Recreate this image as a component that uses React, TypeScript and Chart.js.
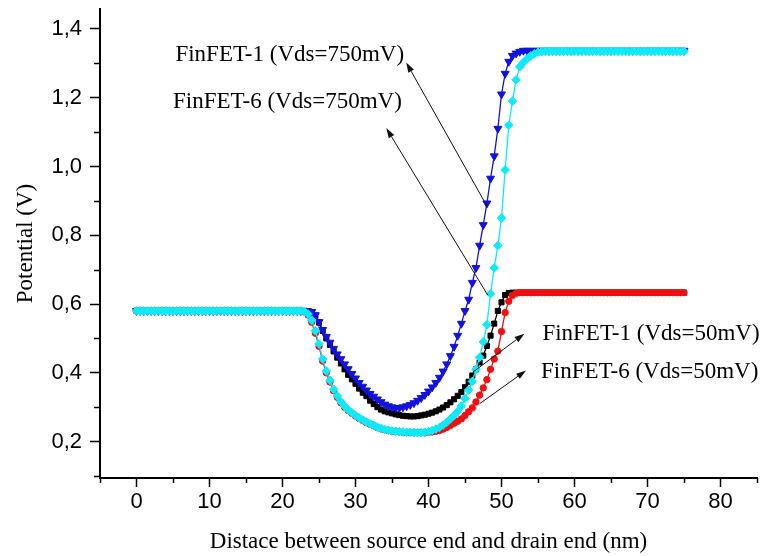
import { useEffect, useRef } from 'react';
import { Chart, registerables } from 'chart.js';

Chart.register(...registerables);

// x positions (nm) shared by all series
const xPositions = [
  0, 0.5, 1, 1.5, 2, 2.5, 3, 3.5, 4, 4.5, 5, 5.5, 6, 6.5, 7, 7.5, 8, 8.5, 9, 9.5, 10,
  10.5, 11, 11.5, 12, 12.5, 13, 13.5, 14, 14.5, 15, 15.5, 16, 16.5, 17, 17.5, 18, 18.5, 19, 19.5, 20,
  20.5, 21, 21.5, 22, 22.5, 23, 23.5, 24, 24.5, 25, 25.5, 26, 26.5, 27, 27.5, 28, 28.5, 29, 29.5, 30,
  30.5, 31, 31.5, 32, 32.5, 33, 33.5, 34, 34.5, 35, 35.5, 36, 36.5, 37, 37.5, 38, 38.5, 39, 39.5, 40,
  40.5, 41, 41.5, 42, 42.5, 43, 43.5, 44, 44.5, 45, 45.5, 46, 46.5, 47, 47.5, 48, 48.5, 49, 49.5, 50,
  50.5, 51, 51.5, 52, 52.5, 53, 53.5, 54, 54.5, 55, 55.5, 56,
  56.5, 57, 57.5, 58, 58.5, 59, 59.5, 60, 60.5, 61, 61.5, 62, 62.5, 63, 63.5, 64, 64.5, 65, 65.5,
  66, 66.5, 67, 67.5, 68, 68.5, 69, 69.5, 70, 70.5, 71, 71.5, 72, 72.5, 73, 73.5, 74, 74.5, 75,
];

// FinFET-1 (Vds=750mV) - blue down triangles
const finfet1Vds750 = [
  0.58, 0.58, 0.58, 0.58, 0.58, 0.58, 0.58, 0.58, 0.58, 0.58, 0.58, 0.58, 0.58, 0.58, 0.58, 0.58, 0.58, 0.58, 0.58, 0.58, 0.58,
  0.58, 0.58, 0.58, 0.58, 0.58, 0.58, 0.58, 0.58, 0.58, 0.58, 0.58, 0.58, 0.58, 0.58, 0.58, 0.58, 0.58, 0.58, 0.58, 0.58,
  0.58, 0.58, 0.58, 0.58, 0.58, 0.58, 0.579, 0.577, 0.568, 0.548, 0.525, 0.505, 0.488, 0.47, 0.454, 0.44, 0.425, 0.411, 0.397, 0.384,
  0.371, 0.36, 0.349, 0.339, 0.331, 0.323, 0.315, 0.308, 0.303, 0.3, 0.298, 0.298, 0.3, 0.303, 0.307, 0.312, 0.319, 0.327, 0.336, 0.346,
  0.358, 0.371, 0.386, 0.404, 0.425, 0.449, 0.476, 0.508, 0.543, 0.58, 0.613, 0.662, 0.705, 0.77, 0.83, 0.893, 0.965, 1.03, 1.11, 1.21,
  1.27, 1.305, 1.322, 1.329, 1.334, 1.337, 1.337, 1.337, 1.337, 1.337, 1.337, 1.337,
  1.337, 1.337, 1.337, 1.337, 1.337, 1.337, 1.337, 1.337, 1.337, 1.337, 1.337, 1.337, 1.337, 1.337, 1.337, 1.337, 1.337, 1.337, 1.337,
  1.337, 1.337, 1.337, 1.337, 1.337, 1.337, 1.337, 1.337, 1.337, 1.337, 1.337, 1.337, 1.337, 1.337, 1.337, 1.337, 1.337, 1.337, 1.337,
];

// FinFET-6 (Vds=750mV) - cyan diamonds
const finfet6Vds750 = [
  0.58, 0.58, 0.58, 0.58, 0.58, 0.58, 0.58, 0.58, 0.58, 0.58, 0.58, 0.58, 0.58, 0.58, 0.58, 0.58, 0.58, 0.58, 0.58, 0.58, 0.58,
  0.58, 0.58, 0.58, 0.58, 0.58, 0.58, 0.58, 0.58, 0.58, 0.58, 0.58, 0.58, 0.58, 0.58, 0.58, 0.58, 0.58, 0.58, 0.58, 0.58,
  0.58, 0.58, 0.58, 0.58, 0.58, 0.578, 0.571, 0.553, 0.522, 0.484, 0.44, 0.405, 0.378, 0.352, 0.333, 0.316, 0.303, 0.292, 0.284, 0.276,
  0.269, 0.263, 0.257, 0.252, 0.247, 0.242, 0.238, 0.235, 0.233, 0.231, 0.23, 0.229, 0.228, 0.227, 0.227, 0.226, 0.226, 0.226, 0.227, 0.229,
  0.232, 0.236, 0.241, 0.248, 0.256, 0.266, 0.276, 0.287, 0.303, 0.325, 0.35, 0.375, 0.41, 0.445, 0.49, 0.54, 0.63, 0.705, 0.77, 0.85,
  0.99, 1.12, 1.19, 1.252, 1.29, 1.303, 1.313, 1.322, 1.328, 1.332, 1.334, 1.335,
  1.335, 1.335, 1.335, 1.335, 1.335, 1.335, 1.335, 1.335, 1.335, 1.335, 1.335, 1.335, 1.335, 1.335, 1.335, 1.335, 1.335, 1.335, 1.335,
  1.335, 1.335, 1.335, 1.335, 1.335, 1.335, 1.335, 1.335, 1.335, 1.335, 1.335, 1.335, 1.335, 1.335, 1.335, 1.335, 1.335, 1.335, 1.335,
];

// FinFET-1 (Vds=50mV) - black squares
const finfet1Vds50 = [
  0.58, 0.58, 0.58, 0.58, 0.58, 0.58, 0.58, 0.58, 0.58, 0.58, 0.58, 0.58, 0.58, 0.58, 0.58, 0.58, 0.58, 0.58, 0.58, 0.58, 0.58,
  0.58, 0.58, 0.58, 0.58, 0.58, 0.58, 0.58, 0.58, 0.58, 0.58, 0.58, 0.58, 0.58, 0.58, 0.58, 0.58, 0.58, 0.58, 0.58, 0.58,
  0.58, 0.58, 0.58, 0.58, 0.58, 0.58, 0.579, 0.576, 0.566, 0.546, 0.522, 0.5, 0.481, 0.462, 0.444, 0.427, 0.41, 0.394, 0.381, 0.368,
  0.354, 0.342, 0.332, 0.319, 0.309, 0.3, 0.293, 0.288, 0.285, 0.282, 0.279, 0.277, 0.275, 0.274, 0.273, 0.273, 0.274, 0.276, 0.278, 0.281,
  0.284, 0.288, 0.293, 0.299, 0.306, 0.314, 0.323, 0.333, 0.344, 0.358, 0.374, 0.392, 0.41, 0.43, 0.45, 0.478, 0.508, 0.543, 0.58, 0.605,
  0.626, 0.632, 0.633, 0.633, 0.633, 0.633, 0.633, 0.633, 0.633, 0.633, 0.633, 0.633,
  0.633, 0.633, 0.633, 0.633, 0.633, 0.633, 0.633, 0.633, 0.633, 0.633, 0.633, 0.633, 0.633, 0.633, 0.633, 0.633, 0.633, 0.633, 0.633,
  0.633, 0.633, 0.633, 0.633, 0.633, 0.633, 0.633, 0.633, 0.633, 0.633, 0.633, 0.633, 0.633, 0.633, 0.633, 0.633, 0.633, 0.633, 0.633,
];

// FinFET-6 (Vds=50mV) - red circles
const finfet6Vds50 = [
  0.58, 0.58, 0.58, 0.58, 0.58, 0.58, 0.58, 0.58, 0.58, 0.58, 0.58, 0.58, 0.58, 0.58, 0.58, 0.58, 0.58, 0.58, 0.58, 0.58, 0.58,
  0.58, 0.58, 0.58, 0.58, 0.58, 0.58, 0.58, 0.58, 0.58, 0.58, 0.58, 0.58, 0.58, 0.58, 0.58, 0.58, 0.58, 0.58, 0.58, 0.58,
  0.58, 0.58, 0.58, 0.58, 0.58, 0.577, 0.568, 0.547, 0.515, 0.477, 0.434, 0.4, 0.373, 0.348, 0.329, 0.313, 0.3, 0.29, 0.282, 0.274,
  0.267, 0.261, 0.255, 0.25, 0.246, 0.241, 0.237, 0.234, 0.232, 0.23, 0.229, 0.228, 0.227, 0.226, 0.226, 0.226, 0.226, 0.226, 0.226, 0.227,
  0.228, 0.23, 0.232, 0.236, 0.241, 0.247, 0.253, 0.259, 0.266, 0.276, 0.287, 0.298, 0.315, 0.335, 0.356, 0.38, 0.41, 0.44, 0.463, 0.52,
  0.575, 0.608, 0.625, 0.631, 0.633, 0.633, 0.633, 0.633, 0.633, 0.633, 0.633, 0.633,
  0.633, 0.633, 0.633, 0.633, 0.633, 0.633, 0.633, 0.633, 0.633, 0.633, 0.633, 0.633, 0.633, 0.633, 0.633, 0.633, 0.633, 0.633, 0.633,
  0.633, 0.633, 0.633, 0.633, 0.633, 0.633, 0.633, 0.633, 0.633, 0.633, 0.633, 0.633, 0.633, 0.633, 0.633, 0.633, 0.633, 0.633, 0.633,
];

// axis ticks
const xTickValues = [0, 10, 20, 30, 40, 50, 60, 70, 80];
const xTickLabels = ['0', '10', '20', '30', '40', '50', '60', '70', '80'];
const xMinorValues = [-5, 5, 15, 25, 35, 45, 55, 65, 75, 85];
const yTickValues = [0.2, 0.4, 0.6, 0.8, 1.0, 1.2, 1.4];
const yTickLabels = ['0,2', '0,4', '0,6', '0,8', '1,0', '1,2', '1,4'];
const yMinorValues = [0.1, 0.3, 0.5, 0.7, 0.9, 1.1, 1.3];

// annotations (data coordinates)
const annotationTexts = ['FinFET-1 (Vds=750mV)', 'FinFET-6 (Vds=750mV)', 'FinFET-1 (Vds=50mV)', 'FinFET-6 (Vds=50mV)'];
const annotationX = [5.33, 5.01, 55.6, 55.42];
const annotationY = [1.3054, 1.17, 0.494, 0.386];
const arrowTailX = [48.09, 48.13, 46.08, 46.99];
const arrowTailY = [0.8816, 0.6253, 0.4019, 0.3098];
const arrowHeadX = [36.95, 34.22, 53.14, 53.37];
const arrowHeadY = [1.3025, 1.1117, 0.5137, 0.4068];

const SERIF = '"Liberation Serif", "Times New Roman", serif';
const SANS = '"Liberation Sans", Arial, sans-serif';

const toPoints = (vals: number[]) => xPositions.map((x, i) => ({ x, y: vals[i] }));

const minorTicksPlugin = {
  id: 'minorTicks',
  afterDraw(chart: any) {
    const { ctx, chartArea, scales } = chart;
    ctx.save();
    ctx.strokeStyle = '#000';
    ctx.lineWidth = 1.5;
    xMinorValues.forEach((v) => {
      const px = Math.round(scales.x.getPixelForValue(v)) + 0.5;
      ctx.beginPath();
      ctx.moveTo(px, chartArea.bottom);
      ctx.lineTo(px, chartArea.bottom + 5);
      ctx.stroke();
    });
    yMinorValues.forEach((v) => {
      const py = Math.round(scales.y.getPixelForValue(v)) + 0.5;
      ctx.beginPath();
      ctx.moveTo(chartArea.left - 6, py);
      ctx.lineTo(chartArea.left, py);
      ctx.stroke();
    });
    ctx.restore();
  },
};

const annotationPlugin = {
  id: 'annotations',
  afterDraw(chart: any) {
    const { ctx, scales } = chart;
    ctx.save();
    ctx.fillStyle = '#000';
    ctx.font = `23px ${SERIF}`;
    ctx.textAlign = 'left';
    ctx.textBaseline = 'alphabetic';
    annotationTexts.forEach((t, i) => {
      ctx.fillText(t, scales.x.getPixelForValue(annotationX[i]), scales.y.getPixelForValue(annotationY[i]));
    });
    ctx.strokeStyle = '#111';
    ctx.lineWidth = 1;
    arrowTailX.forEach((_, i) => {
      const x1 = scales.x.getPixelForValue(arrowTailX[i]);
      const y1 = scales.y.getPixelForValue(arrowTailY[i]);
      const x2 = scales.x.getPixelForValue(arrowHeadX[i]);
      const y2 = scales.y.getPixelForValue(arrowHeadY[i]);
      const ang = Math.atan2(y2 - y1, x2 - x1);
      const len = 10;
      const hw = 3.2;
      const bx = x2 - Math.cos(ang) * len;
      const by = y2 - Math.sin(ang) * len;
      ctx.beginPath();
      ctx.moveTo(x1, y1);
      ctx.lineTo(bx, by);
      ctx.stroke();
      ctx.beginPath();
      ctx.moveTo(x2, y2);
      ctx.lineTo(bx + Math.sin(ang) * hw, by - Math.cos(ang) * hw);
      ctx.lineTo(bx - Math.sin(ang) * hw, by + Math.cos(ang) * hw);
      ctx.closePath();
      ctx.fillStyle = '#111';
      ctx.fill();
    });
    ctx.restore();
  },
};

export default function App() {
  const ref = useRef<HTMLCanvasElement>(null);

  useEffect(() => {
    const canvas = ref.current;
    if (!canvas) return;
    const chart = new Chart(canvas, {
      type: 'line',
      data: {
        datasets: [
          {
            label: 'FinFET-6 (Vds=750mV)',
            data: toPoints(finfet6Vds750),
            borderColor: '#10eaf8',
            backgroundColor: '#10eaf8',
            pointBackgroundColor: '#10eaf8',
            pointBorderColor: '#10eaf8',
            pointStyle: 'rectRot',
            pointRadius: 4.3,
            pointBorderWidth: 1,
            borderWidth: 1.3,
          },
          {
            label: 'FinFET-1 (Vds=750mV)',
            data: toPoints(finfet1Vds750),
            borderColor: '#1212dc',
            backgroundColor: '#1212dc',
            pointBackgroundColor: '#1212dc',
            pointBorderColor: '#1212dc',
            pointStyle: 'triangle',
            pointRotation: 180,
            pointRadius: 4.6,
            pointBorderWidth: 1,
            borderWidth: 1.3,
          },
          {
            label: 'FinFET-6 (Vds=50mV)',
            data: toPoints(finfet6Vds50),
            borderColor: '#f01010',
            backgroundColor: '#f01010',
            pointBackgroundColor: '#f01010',
            pointBorderColor: '#f01010',
            pointStyle: 'circle',
            pointRadius: 3.2,
            pointBorderWidth: 1,
            borderWidth: 1.3,
          },
          {
            label: 'FinFET-1 (Vds=50mV)',
            data: toPoints(finfet1Vds50),
            borderColor: '#000000',
            backgroundColor: '#000000',
            pointBackgroundColor: '#000000',
            pointBorderColor: '#000000',
            pointStyle: 'rect',
            pointRadius: 3.6,
            pointBorderWidth: 1,
            borderWidth: 1.3,
          },
        ],
      },
      options: {
        animation: false,
        responsive: false,
        maintainAspectRatio: false,
        layout: { padding: { top: 9, right: 12, left: 0, bottom: 0 } },
        elements: { line: { tension: 0 } },
        plugins: {
          legend: { display: false },
          tooltip: { enabled: false },
        },
        scales: {
          x: {
            type: 'linear',
            min: -5,
            max: 85,
            afterBuildTicks: (s: any) => {
              s.ticks = xTickValues.map((v) => ({ value: v }));
            },
            afterFit: (s: any) => {
              s.height = 78;
              s.paddingLeft = 0;
              s.paddingRight = 0;
            },
            grid: { drawOnChartArea: false, drawTicks: true, tickLength: 9, tickColor: '#000', tickWidth: 1.5 },
            border: { display: true, color: '#000', width: 2 },
            ticks: {
              autoSkip: false,
              maxRotation: 0,
              padding: 2,
              color: '#000',
              font: { family: SANS, size: 22 },
              callback: (_v: any, i: number) => xTickLabels[i],
            },
            title: {
              display: true,
              text: 'Distace between source end and drain end (nm)',
              color: '#000',
              font: { family: SERIF, size: 23 },
              padding: { top: 0, bottom: 0 },
            },
          },
          y: {
            type: 'linear',
            min: 0.094,
            max: 1.458,
            afterBuildTicks: (s: any) => {
              s.ticks = yTickValues.map((v) => ({ value: v }));
            },
            afterFit: (s: any) => {
              s.width = 100;
              s.paddingTop = 0;
              s.paddingBottom = 0;
            },
            grid: { drawOnChartArea: false, drawTicks: true, tickLength: 10, tickColor: '#000', tickWidth: 1.5 },
            border: { display: true, color: '#000', width: 2 },
            ticks: {
              autoSkip: false,
              padding: 8,
              color: '#000',
              font: { family: SANS, size: 22 },
              callback: (_v: any, i: number) => yTickLabels[i],
            },
            title: {
              display: true,
              text: 'Potential (V)',
              color: '#000',
              font: { family: SERIF, size: 23 },
              padding: { top: 12, bottom: 0 },
            },
          },
        },
      },
      plugins: [minorTicksPlugin, annotationPlugin],
    } as any);
    return () => chart.destroy();
  }, []);

  return (
    <div style={{ position: 'fixed', left: 0, top: 0, width: 769, height: 556, background: '#fff' }}>
      <canvas ref={ref} width={769} height={556} style={{ display: 'block', width: 769, height: 556 }} />
    </div>
  );
}
